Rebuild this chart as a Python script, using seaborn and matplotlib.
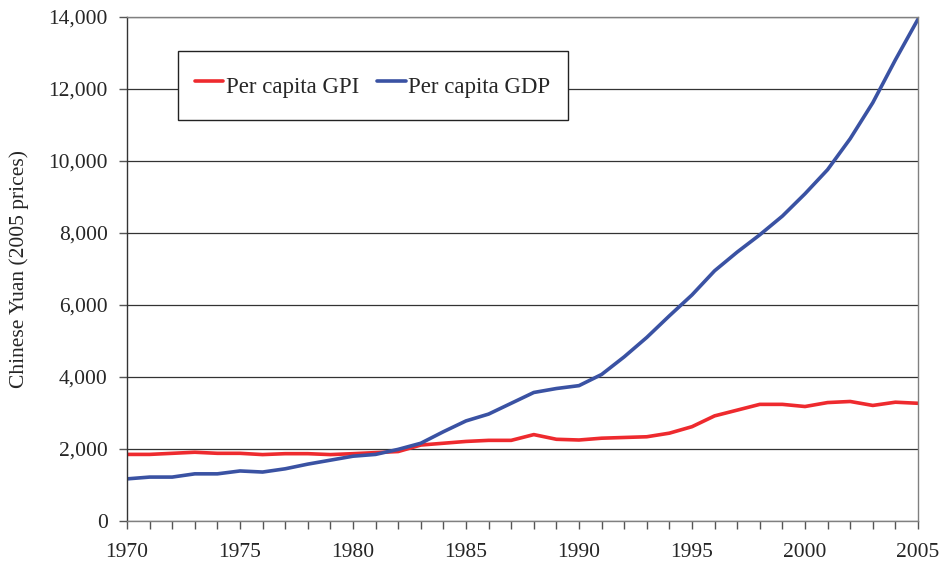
import pandas as pd
import numpy as np
import matplotlib.pyplot as plt
import seaborn as sns
from matplotlib.lines import Line2D

years = list(range(1970, 2006))
gpi = [1850, 1850, 1880, 1910, 1880, 1880, 1845, 1870, 1870, 1845, 1870, 1900, 1930, 2110,
       2160, 2210, 2240, 2240, 2400, 2270, 2250, 2300, 2320, 2340, 2440, 2620,
       2920, 3080, 3240, 3240, 3180, 3290, 3320, 3210, 3300, 3270]
gdp = [1170, 1220, 1220, 1310, 1310, 1390, 1360, 1450, 1580, 1690, 1800, 1850, 1990, 2160,
       2480, 2780, 2970, 3270, 3570, 3680, 3760, 4070, 4560, 5100, 5700, 6280,
       6950, 7470, 7950, 8470, 9090, 9760, 10620, 11620, 12810, 13940]

df = pd.DataFrame({'year': years * 2,
                   'value': gpi + gdp,
                   'series': ['Per capita GPI'] * len(years) + ['Per capita GDP'] * len(years)})

sns.set_style('white')
plt.rcParams['font.family'] = ['Liberation Serif', 'DejaVu Serif']

fig = plt.figure(figsize=(9.46, 5.69), dpi=100)
ax = fig.add_axes([127 / 946, 1 - 521 / 569, 791 / 946, 504 / 569])

red, blue = '#ee2a2e', '#3a52a3'
sns.lineplot(data=df, x='year', y='value', hue='series',
             palette={'Per capita GPI': red, 'Per capita GDP': blue},
             linewidth=2.6, ax=ax, legend=False)

ax.set_xlim(1970, 2005)
ax.set_ylim(0, 14000)
ax.set_xticks(range(1970, 2006, 5))
ax.set_xticks(years, minor=True)
ax.set_yticks(range(0, 14001, 2000))
ax.set_yticklabels([f'{v:,}' for v in range(0, 14001, 2000)])
ax.tick_params(axis='both', which='both', direction='out', length=6, width=1,
               color='#555555', labelsize=15.5, pad=8, left=True, bottom=True)
ax.tick_params(axis='x', which='major', pad=10)
ax.set_xlabel('')
ax.set_ylabel('Chinese Yuan (2005 prices)', fontsize=15.5, labelpad=14)
ax.grid(axis='y', color='#333333', linewidth=0.9)
ax.set_axisbelow(True)
for side in ['left', 'bottom', 'right', 'top']:
    ax.spines[side].set_visible(True)
    ax.spines[side].set_color('#808080')
    ax.spines[side].set_linewidth(1)
ax.spines['left'].set_color('#333333')

handles = [Line2D([], [], color=red, lw=2.6), Line2D([], [], color=blue, lw=2.6)]
leg = ax.legend(handles, ['Per capita GPI', 'Per capita GDP'], ncol=2, loc='center',
                bbox_to_anchor=(0.3105, 0.864), fontsize=16.5, frameon=True, fancybox=False,
                framealpha=1, edgecolor='#222222', borderpad=0.75, handlelength=1.25,
                handleheight=1.95, handletextpad=0.1, columnspacing=0.8, borderaxespad=0)
leg.get_frame().set_linewidth(1)

fig.savefig('out.png', dpi=100)
